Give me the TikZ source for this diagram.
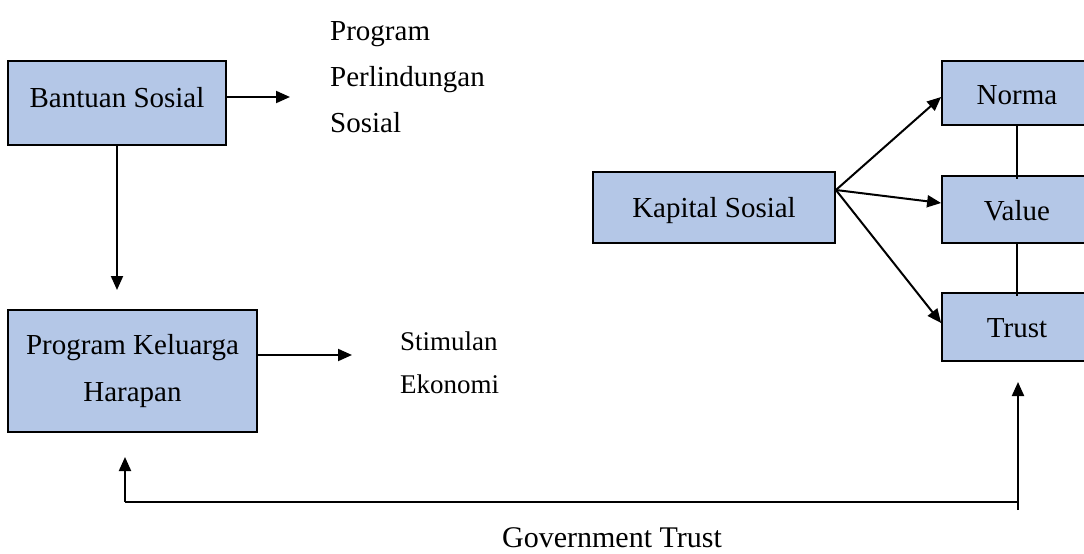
\documentclass[tikz,border=0pt]{standalone}
\usepackage{fontspec}
\setmainfont{Liberation Serif}
\usetikzlibrary{arrows.meta}
\definecolor{boxblue}{HTML}{B4C7E7}
\tikzset{
  box/.style={draw=black, fill=boxblue, line width=1.8pt, inner sep=0pt, align=center,
    font=\fontsize{29}{47}\selectfont},
  lbl/.style={inner sep=0pt, align=left, font=\fontsize{29}{46}\selectfont},
  slbl/.style={inner sep=0pt, align=left, font=\fontsize{27}{43}\selectfont},
  arr/.style={line width=2pt, -{Triangle[length=14pt,width=12pt]}},
  ln/.style={line width=2pt}
}
\begin{document}
\begin{tikzpicture}[x=1pt,y=-1pt]
\useasboundingbox (0,0) rectangle (1084,554);
\clip (0,0) rectangle (1084,554);
\fill[white] (0,0) rectangle (1084,554);
% left column
\node[box, minimum width=218, minimum height=84, text height=20pt, text depth=12pt] (bs) at (117,103) {Bantuan Sosial};
\node[box, minimum width=249, minimum height=122] (pkh) at (132.5,371) {Program Keluarga\\Harapan};
\node[lbl, anchor=west] (pps) at (330,77) {Program\\Perlindungan\\Sosial};
\node[slbl, anchor=west] (se) at (400,363) {Stimulan\\Ekonomi};
\node[inner sep=0pt, font=\fontsize{30}{36}\selectfont] (gt) at (612,538) {Government Trust};
% right part
\node[box, minimum width=242, minimum height=71, text height=20pt, text depth=1pt] (kap) at (714,207.5) {Kapital Sosial};
\node[box, minimum width=150, minimum height=64, text height=22pt, text depth=0pt] (norma) at (1017,93) {Norma};
\node[box, minimum width=150, minimum height=67, text height=21pt, text depth=0pt] (value) at (1017,209.5) {Value};
\node[box, minimum width=150, minimum height=68, text height=20pt, text depth=0pt] (trust) at (1017,327) {Trust};
% coordinates for free ends
\coordinate (a1) at (290,97);
\coordinate (a2) at (117,290);
\coordinate (a3) at (352,355);
\coordinate (fb1) at (1018,510);
\coordinate (fb2) at (1018,502);
\coordinate (fb3) at (125,502);
\coordinate (fb4) at (125,457);
\coordinate (fb5) at (1018,382);
% connectors
\draw[arr] ([yshift=6pt]bs.east) -- (a1);
\draw[arr] (bs.south) -- (a2);
\draw[arr] ([yshift=16pt]pkh.east) -- (a3);
\draw[arr] ([yshift=17.5pt]kap.east) -- ([yshift=-4pt]norma.west);
\draw[arr] ([yshift=17.5pt]kap.east) -- ([yshift=6.5pt]value.west);
\draw[arr] ([yshift=17.5pt]kap.east) -- ([yshift=4pt]trust.west);
\draw[ln] (norma.south) -- ([yshift=-4pt]value.north);
\draw[ln] (value.south) -- ([yshift=-4pt]trust.north);
\draw[arr] (fb1) -- (fb5);
\draw[ln] (fb2) -- (fb3);
\draw[arr] (fb3) -- (fb4);
\end{tikzpicture}
\end{document}
